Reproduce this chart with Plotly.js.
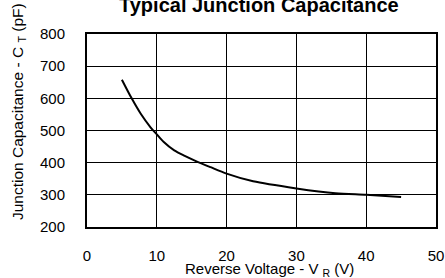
<!DOCTYPE html>
<html><head><meta charset="utf-8">
<script src="https://cdn.plot.ly/plotly-3.0.1.min.js"></script>
<style>html,body{margin:0;padding:0;background:#fff}#c{width:445px;height:278px}</style>
</head><body><div id="c"></div>
<script>
const voltage = [5, 6.4, 7.7, 9.1, 10, 11, 12.5, 14, 15.6, 17.7, 20, 23.8, 30, 35.6, 40, 45];
const capacitance = [658, 600, 552, 510, 488, 464, 438, 421, 405, 386, 366, 342, 320, 305, 300, 293];
const xTicks = [0, 10, 20, 30, 40, 50];
const yTicks = [200, 300, 400, 500, 600, 700, 800];
const FONT = 'Liberation Sans, Arial, sans-serif';

Plotly.newPlot('c', [{
  x: voltage, y: capacitance, type: 'scatter', mode: 'lines',
  line: {color: '#000', width: 2, shape: 'spline', smoothing: 0.8},
  hoverinfo: 'none'
}], {
  width: 445, height: 278,
  margin: {l: 87, r: 9, t: 34, b: 51},
  paper_bgcolor: '#fff', plot_bgcolor: '#fff',
  showlegend: false,
  font: {family: FONT, size: 15, color: '#000'},
  xaxis: {range: [0, 50], tickvals: xTicks, ticktext: xTicks.map(String),
    showgrid: true, gridcolor: '#000', gridwidth: 1, zeroline: false,
    showline: true, mirror: true, linecolor: '#000', linewidth: 2,
    ticks: 'outside', ticklen: 14, tickcolor: 'rgba(0,0,0,0)', fixedrange: true},
  yaxis: {range: [200, 800], tickvals: yTicks, ticktext: yTicks.map(String),
    showgrid: true, gridcolor: '#000', gridwidth: 1, zeroline: false,
    showline: true, mirror: true, linecolor: '#000', linewidth: 2,
    ticks: 'outside', ticklen: 17, tickcolor: 'rgba(0,0,0,0)', fixedrange: true},
  annotations: [
    {text: '<b>Typical Junction Capacitance</b>', xref: 'paper', yref: 'paper',
     x: 0.493, y: 1.15, xanchor: 'center', yanchor: 'middle', showarrow: false,
     font: {family: FONT, size: 20, color: '#000'}},
    {text: 'Reverse Voltage - V <sub>R</sub> (V)', xref: 'paper', yref: 'paper',
     x: 0.524, y: -0.218, xanchor: 'center', yanchor: 'middle', showarrow: false,
     font: {family: FONT, size: 15, color: '#000'}},
    {text: 'Junction Capacitance - C <sub>T</sub> (pF)', xref: 'paper', yref: 'paper',
     x: -0.198, y: 0.6, xanchor: 'center', yanchor: 'middle', showarrow: false, textangle: -90,
     font: {family: FONT, size: 15.5, color: '#000'}}
  ]
}, {staticPlot: true});
</script></body></html>
